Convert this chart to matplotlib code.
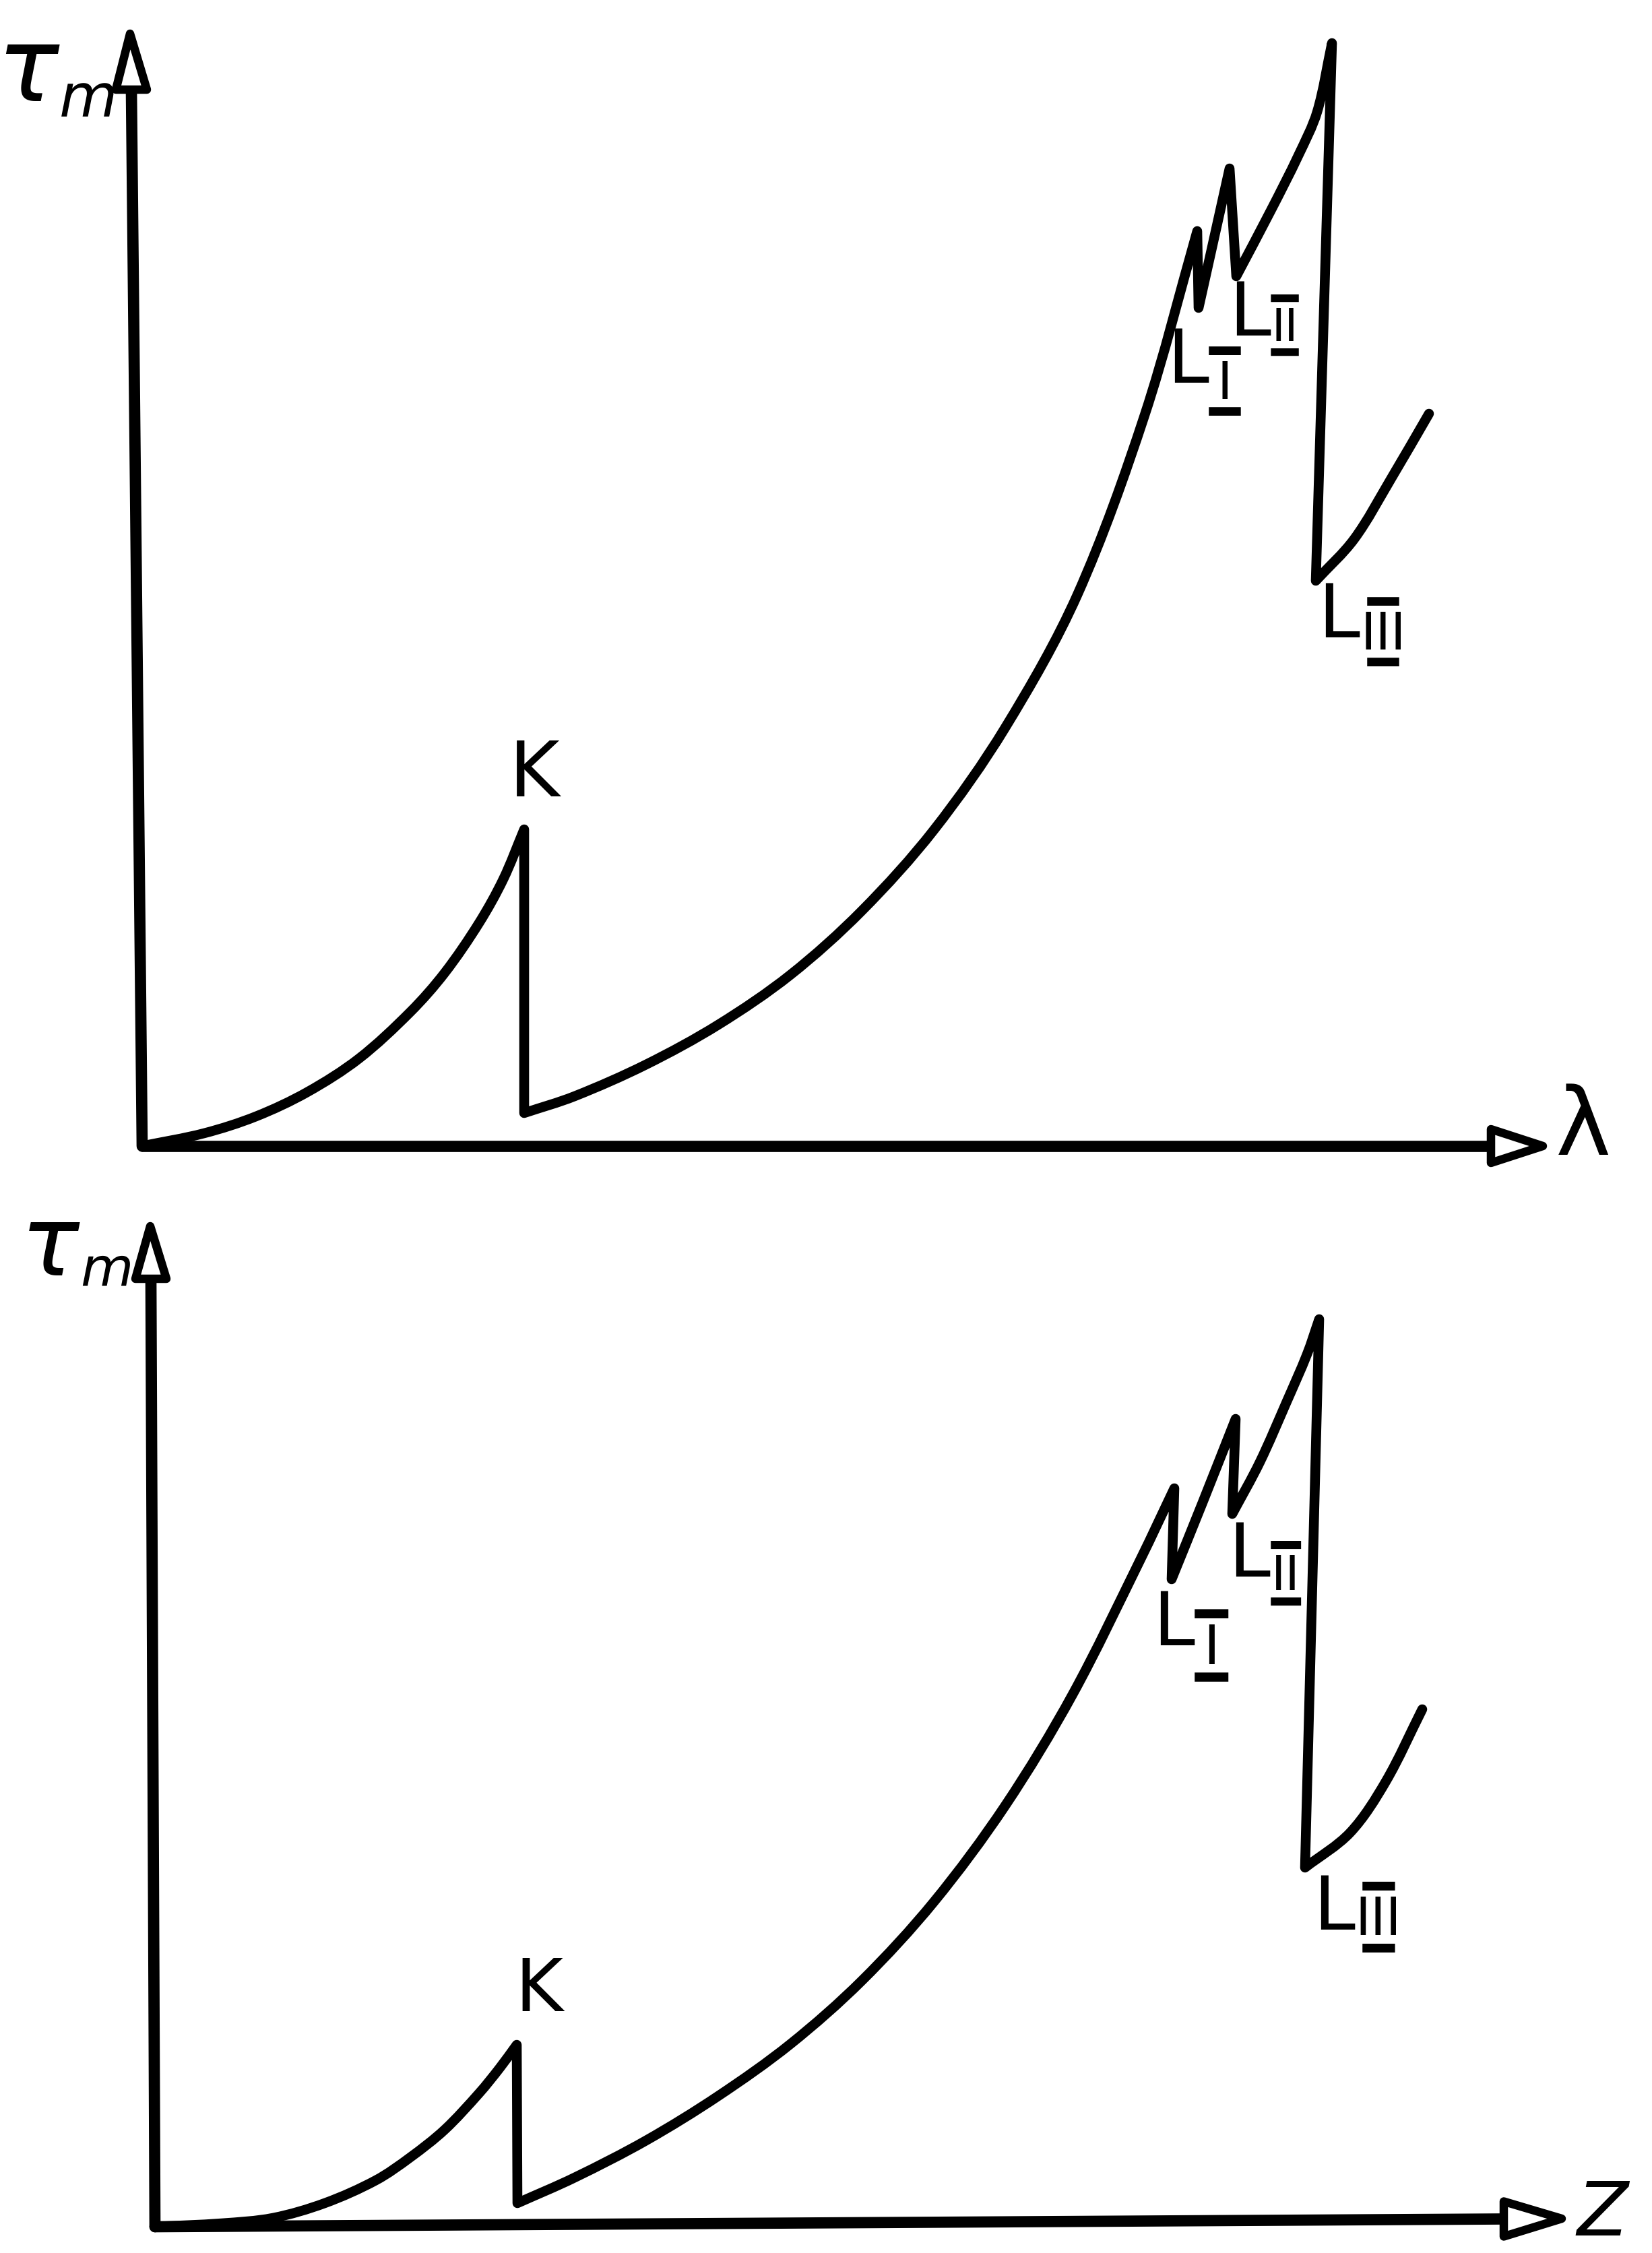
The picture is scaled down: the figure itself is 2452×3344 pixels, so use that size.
import matplotlib
matplotlib.use("Agg")
import matplotlib.pyplot as plt
import numpy as np
from matplotlib.patches import Polygon, PathPatch
from matplotlib.path import Path

# ---------------- data (arbitrary units, origin at the axes corner) ----------------
# Upper panel: tau_m versus wavelength lambda
lam_k = [0.0, 9.2, 16.9, 24.5, 32.2, 39.8, 44.9, 50.0, 53.6, 56.7]
tau_k = [0.0, 1.9, 4.4, 8.0, 13.0, 19.9, 25.7, 33.1, 39.6, 47.0]
lam_l = [56.7, 64.2, 74.8, 85.5, 96.2, 106.8, 117.5, 128.1, 138.8, 148.8, 156.6]
tau_l = [4.9, 7.4, 12.1, 18.0, 25.4, 34.9, 46.9, 62.1, 81.8, 108.5, 135.8]
lam_l1 = [156.8, 161.4]
tau_l1 = [124.4, 145.1]
lam_l2 = [162.4, 167.6, 171.6, 174.4, 176.6]
tau_l2 = [129.1, 139.0, 147.0, 153.5, 163.7]
lam_l3 = [174.2, 179.9, 185.4, 191.0]
tau_l3 = [83.9, 90.1, 99.1, 108.7]

# Lower panel: tau_m versus atomic number Z
z_k = [0.0, 9.9, 17.5, 25.2, 32.8, 37.9, 43.0, 48.1, 51.2, 53.7]
t_k = [0.0, 0.5, 1.3, 3.5, 6.9, 10.3, 14.4, 19.8, 23.6, 27.0]
z_l = [53.8, 62.3, 72.9, 83.6, 94.3, 104.9, 115.6, 126.2, 136.2, 146.2, 151.3]
t_l = [3.5, 7.3, 12.8, 19.4, 27.1, 36.5, 48.2, 62.5, 79.0, 98.9, 109.6]
z_l1 = [150.9, 155.5, 160.4]
t_l1 = [96.1, 107.5, 119.9]
z_l2 = [159.9, 164.0, 168.0, 171.0, 172.8]
t_l2 = [105.8, 113.5, 122.5, 129.5, 134.7]
z_l3 = [170.7, 177.4, 182.7, 188.1]
t_l3 = [53.3, 58.5, 66.1, 76.8]

# edge labels: (L centre y, numeral centre, numeral text, numeral size)
top_edges = [(116.3, (160.7, 113.0), "I", 55),
             (123.3, (169.6, 121.4), "II", 48),
             (78.6, (184.2, 75.8), "III", 55)]
bot_edges = [(89.3, (156.8, 85.7), "I", 58),
             (99.6, (167.8, 96.5), "II", 52),
             (47.2, (181.6, 45.5), "III", 56)]
top_k_label = (58.2, 55.1)
bot_k_label = (57.0, 35.0)

# axes geometry (arrow ends)
top_x_end, top_x_base = 207.9, 200.2
top_y_base, top_y_tip = (-1.6, 156.8), (-1.8, 165.1)
bot_x_end, bot_x_base = 208.8, 200.2
bot_y_base, bot_y_tip = (-0.6, 140.7), (-0.7, 148.5)

# ---------------- drawing ----------------
W, H = 2452, 3344
fig = plt.figure(figsize=(W / 100, H / 100), dpi=100)
fig.patch.set_facecolor("white")

top = fig.add_axes([0, 1 - 1760 / H, 1, 1760 / H])
bot = fig.add_axes([0, 0, 1, 1584 / H])
top.set_xlim(-21.1, 224.1)
top.set_ylim(-5.9, 170.1)
bot.set_xlim(-23.0, 222.2)
bot.set_ylim(-3.9, 154.5)
for ax in (top, bot):
    ax.set_axis_off()

AX_LW = 12
CURVE_LW = 10.5
HEAD_LW = 9


def draw_axes(ax, x_base, x_end, x_y_end, y_base, y_tip, hw_x, hw_y):
    yb = x_y_end * x_base / x_end
    ax.plot([0, x_base], [0, yb], color="black", lw=AX_LW,
            solid_capstyle="round", zorder=2)
    ax.add_patch(Polygon([(x_base, yb - hw_x), (x_end, x_y_end), (x_base, yb + hw_x)],
                         closed=True, fc="white", ec="black", lw=HEAD_LW,
                         joinstyle="round", zorder=3))
    ax.plot([0, y_base[0]], [0, y_base[1]], color="black", lw=AX_LW,
            solid_capstyle="round", zorder=2)
    ax.add_patch(Polygon([(y_base[0] - hw_y, y_base[1]), y_tip, (y_base[0] + hw_y, y_base[1])],
                         closed=True, fc="white", ec="black", lw=HEAD_LW,
                         joinstyle="round", zorder=3))


draw_axes(top, top_x_base, top_x_end, 0.0, top_y_base, top_y_tip, 2.5, 2.3)
draw_axes(bot, bot_x_base, bot_x_end, 1.2, bot_y_base, bot_y_tip, 2.6, 2.3)


def smooth_curve(ax, branches):
    """Each branch is drawn as a smooth cubic (chord-length Hermite) curve
    through its read points; consecutive branches are joined by the straight
    absorption edges."""
    verts, codes = [], []
    for bi, (xs, ys) in enumerate(branches):
        p = np.column_stack([xs, ys]).astype(float)
        n = len(p)
        t = np.concatenate([[0.0], np.cumsum(np.hypot(*np.diff(p, axis=0).T))])
        m = np.zeros_like(p)
        for k in range(n):
            a, b = max(k - 1, 0), min(k + 1, n - 1)
            m[k] = (p[b] - p[a]) / (t[b] - t[a])
        verts.append(p[0])
        codes.append(Path.MOVETO if bi == 0 else Path.LINETO)
        for i in range(n - 1):
            dt = t[i + 1] - t[i]
            verts += [p[i] + m[i] * dt / 3.0, p[i + 1] - m[i + 1] * dt / 3.0, p[i + 1]]
            codes += [Path.CURVE4] * 3
    ax.add_patch(PathPatch(Path(verts, codes), fill=False, ec="black", lw=CURVE_LW,
                           capstyle="round", joinstyle="round", zorder=4))


smooth_curve(top, [(lam_k, tau_k), (lam_l, tau_l), (lam_l1, tau_l1),
                   (lam_l2, tau_l2), (lam_l3, tau_l3)])
smooth_curve(bot, [(z_k, t_k), (z_l, t_l), (z_l1, t_l1),
                   (z_l2, t_l2), (z_l3, t_l3)])

FONT = "DejaVu Sans"
fig.canvas.draw()
renderer = fig.canvas.get_renderer()


def to_data(ax, xd, yd):
    return ax.transData.inverted().transform((xd, yd))


def edge_label(ax, ly, npos, num, nsize, lsize=80):
    t = ax.text(*npos, "━\n" + num + "\n━", fontsize=nsize, family=FONT,
                ha="center", va="center", multialignment="center", linespacing=0.5)
    bb = t.get_window_extent(renderer)
    lx, _ = to_data(ax, bb.x0 - 1, 0)
    ax.text(lx, ly, "L", fontsize=lsize, family=FONT, ha="right", va="center")


for ly, npos, num, ns in top_edges:
    edge_label(top, ly, npos, num, ns)
for ly, npos, num, ns in bot_edges:
    edge_label(bot, ly, npos, num, ns)

top.text(*top_k_label, "K", fontsize=82, family=FONT, ha="center", va="center")
bot.text(*bot_k_label, "K", fontsize=78, family=FONT, ha="center", va="center")


def tau_m(ax, mpos, tau_y, tsize, msize):
    m = ax.text(*mpos, "m", fontsize=msize, family=FONT, style="italic",
                ha="center", va="center")
    bb = m.get_window_extent(renderer)
    tx, _ = to_data(ax, bb.x0 - 1, 0)
    ax.text(tx, tau_y, "τ", fontsize=tsize, family=FONT, style="italic",
            ha="right", va="center")


tau_m(top, (-8.0, 155.3), 159.3, 110, 64)
tau_m(bot, (-7.2, 141.8), 145.2, 104, 58)

top.text(213.9, 2.6, "λ", fontsize=100, family=FONT, ha="center", va="center")
bot.text(214.8, 1.8, "Z", fontsize=80, family=FONT, style="italic", ha="center", va="center")

fig.savefig("out.png", dpi=100, facecolor="white")
